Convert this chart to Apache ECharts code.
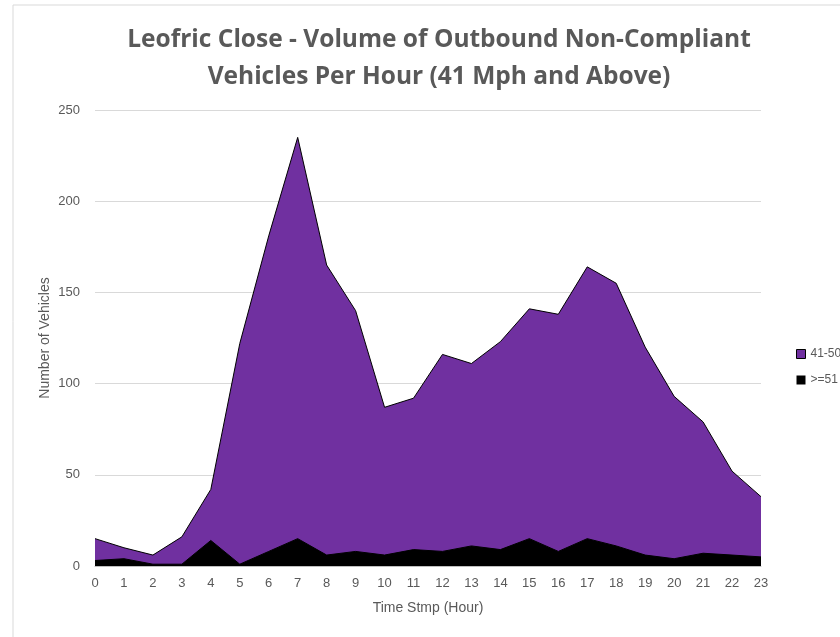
<!DOCTYPE html>
<html><head><meta charset="utf-8">
<script src="https://cdn.jsdelivr.net/npm/echarts@6/dist/echarts.min.js"></script>
<style>html,body{margin:0;padding:0;background:#fff}#c{width:840px;height:637px}</style>
</head><body><div id="c"></div>
<script>
var hours = ['0','1','2','3','4','5','6','7','8','9','10','11','12','13','14','15','16','17','18','19','20','21','22','23'];
var s4150 = [15,10,6,16,42,122,181,235,165,140,87,92,116,111,123,141,138,164,155,120,93,79,52,38];
var s51 = [3,4,1,1,14,1,8,15,6,8,6,9,8,11,9,15,8,15,11,6,4,7,6,5];
var yTicks = [0,50,100,150,200,250];

var chart = echarts.init(document.getElementById('c'));
chart.setOption({
  animation:false,
  graphic:[{type:'rect',shape:{x:13,y:5,width:840,height:650},style:{fill:'none',stroke:'#d9d9d9',lineWidth:1},silent:true,z:-1}],
  title:{text:'Leofric Close - Volume of Outbound Non-Compliant\nVehicles Per Hour (41 Mph and Above)',left:434,textAlign:'center',top:17,
    textStyle:{fontFamily:'Open Sans',fontWeight:'bold',fontSize:24.5,color:'#595959',lineHeight:37}},
  legend:{orient:'vertical',left:791,top:343,itemGap:14,itemWidth:9,itemHeight:9,icon:'rect',
    textStyle:{fontFamily:'Liberation Sans',fontSize:12,color:'#595959'},
    data:[{name:'41-50',itemStyle:{color:'#7030a0',borderColor:'#000',borderWidth:1}},{name:'>=51',itemStyle:{color:'#000'}}]},
  grid:{left:95,right:79,top:110,bottom:71,containLabel:false},
  xAxis:{type:'category',data:hours,boundaryGap:false,name:'Time Stmp (Hour)',nameLocation:'middle',nameGap:35,
    nameTextStyle:{fontFamily:'Liberation Sans',fontSize:14,color:'#595959'},
    axisLine:{lineStyle:{color:'#bfbfbf',width:1}},axisTick:{show:false},
    axisLabel:{fontFamily:'Liberation Sans',fontSize:13,color:'#595959',margin:11},splitLine:{show:false}},
  yAxis:{type:'value',min:0,max:250,interval:50,name:'Number of Vehicles',nameLocation:'middle',nameGap:43,nameMoveOverlap:false,
    nameTextStyle:{fontFamily:'Liberation Sans',fontSize:14,color:'#595959'},
    axisLine:{show:false},axisTick:{show:false},
    axisLabel:{fontFamily:'Liberation Sans',fontSize:13,color:'#595959',margin:15,formatter:function(v){return yTicks.indexOf(v)>=0?String(v):'';}},
    splitLine:{lineStyle:{color:'#d9d9d9',width:1}}},
  series:[
    {name:'41-50',type:'line',data:s4150,symbol:'none',lineStyle:{color:'#000',width:1},areaStyle:{color:'#7030a0',opacity:1},itemStyle:{color:'#7030a0'},z:2},
    {name:'>=51',type:'line',data:s51,symbol:'none',lineStyle:{color:'#000',width:1},areaStyle:{color:'#000',opacity:1},itemStyle:{color:'#000'},z:3}
  ]
});
</script></body></html>
